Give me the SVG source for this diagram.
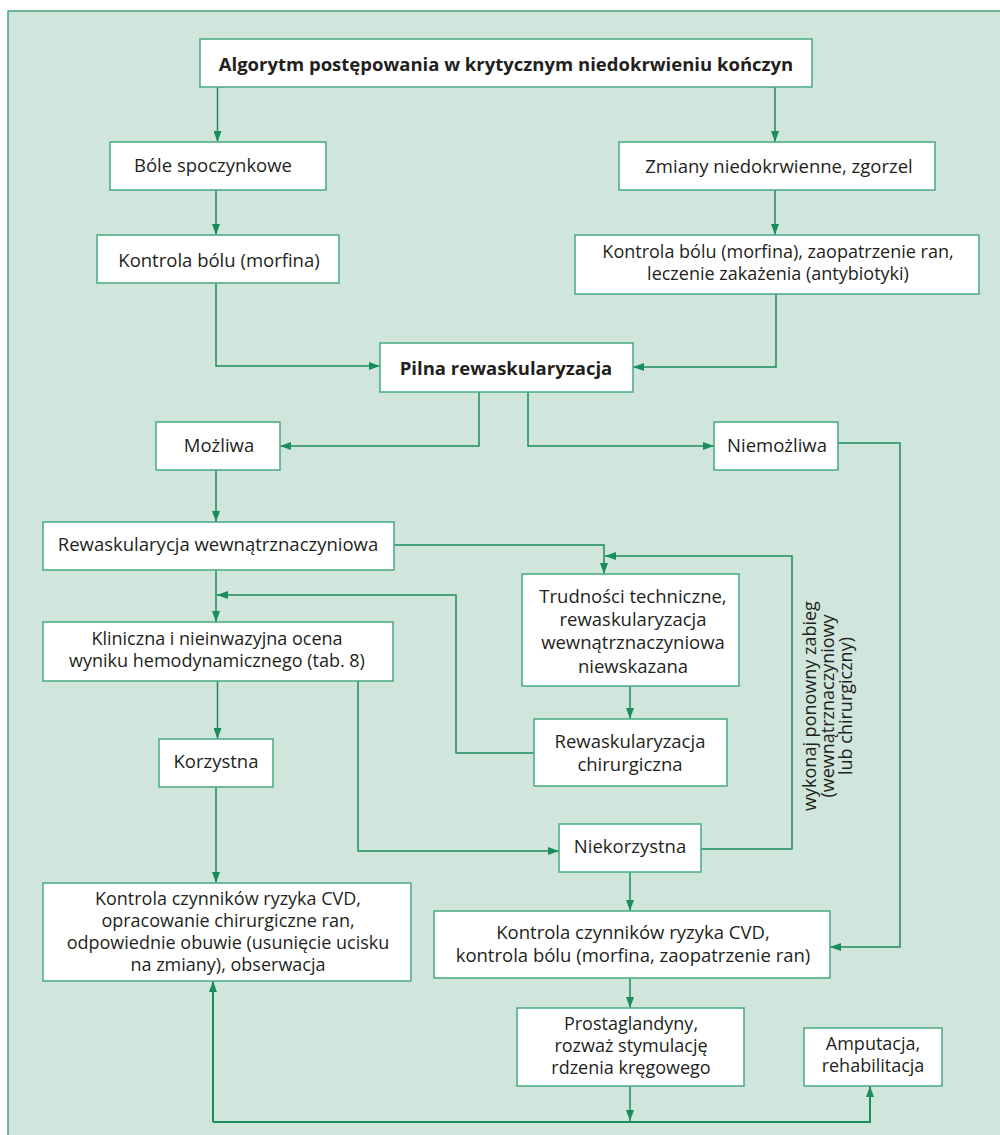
<svg xmlns="http://www.w3.org/2000/svg" width="1000" height="1135" viewBox="0 0 1000 1135">
<defs>
<marker id="ah" viewBox="0 0 11 8" refX="11" refY="4" markerWidth="11" markerHeight="8" orient="auto" markerUnits="userSpaceOnUse">
<path d="M0,0 L11,4 L0,8 z" fill="#1a8c5e"/>
</marker>
<style>
.box{fill:#ffffff;stroke:#4fae86;stroke-width:1.6}
.t{font-family:"Open Sans","Noto Sans","DejaVu Sans",sans-serif;font-size:18.5px;fill:#231f20;text-anchor:middle}
.s{font-size:18px}
.b{font-weight:bold}
.c{fill:none;stroke:#1a8c5e;stroke-width:1.5;marker-end:url(#ah)}
</style>
</defs>
<rect x="8" y="11" width="1000" height="1135" fill="#d0e5dc" stroke="#3fa57a" stroke-width="1.5"/>

<g id="connectors">
<path class="c" d="M217.5,87 V142"/>
<path class="c" d="M775,87 V142"/>
<path class="c" d="M216,190 V235"/>
<path class="c" d="M775,190 V235"/>
<path class="c" d="M216,283 V366 H380"/>
<path class="c" d="M776,294 V367 H633"/>
<path class="c" d="M479,392 V446 H280"/>
<path class="c" d="M528,392 V446 H714"/>
<path class="c" d="M838,443 H900 V947 H830"/>
<path class="c" d="M216,470 V522"/>
<path class="c" d="M394,545 H604 V574"/>
<path class="c" d="M216,570 V622"/>
<path class="c" d="M534,753 H456 V595 H217"/>
<path class="c" d="M701,849 H792 V556 H605"/>
<path class="c" d="M630,686 V719"/>
<path class="c" d="M217.5,681 V739"/>
<path class="c" d="M358,681 V851 H559"/>
<path class="c" d="M216,787 V883"/>
<path class="c" d="M630,872 V911"/>
<path class="c" d="M630,978 V1008"/>
<path class="c" d="M630,1086 V1121"/>
<path class="c" style="stroke-width:2" d="M213,1122 V981"/>
<path class="c" style="stroke-width:2" d="M213,1122 H870 V1086"/>
</g>

<g id="n-title"><rect class="box" x="200" y="39" width="612" height="48"/>
<text class="t b" x="506" y="71">Algorytm postępowania w krytycznym niedokrwieniu kończyn</text></g>

<g id="n-bole"><rect class="box" x="110" y="142" width="216" height="48"/>
<text class="t" x="213" y="172">Bóle spoczynkowe</text></g>

<g id="n-kontrola1"><rect class="box" x="97" y="235" width="242" height="48"/>
<text class="t" x="219" y="267">Kontrola bólu (morfina)</text></g>

<g id="n-zmiany"><rect class="box" x="619" y="142" width="316" height="48"/>
<text class="t" x="779" y="173">Zmiany niedokrwienne, zgorzel</text></g>

<g id="n-kontrola2"><rect class="box" x="575" y="235" width="404" height="59"/>
<text class="t s" x="778" y="258">Kontrola bólu (morfina), zaopatrzenie ran,</text>
<text class="t s" x="778" y="280">leczenie zakażenia (antybiotyki)</text></g>

<g id="n-pilna"><rect class="box" x="380" y="343" width="253" height="49"/>
<text class="t b" x="506" y="375">Pilna rewaskularyzacja</text></g>

<g id="n-mozliwa"><rect class="box" x="156" y="422" width="124" height="48"/>
<text class="t" x="219" y="452">Możliwa</text></g>

<g id="n-niemozliwa"><rect class="box" x="714" y="422" width="124" height="48"/>
<text class="t" x="777" y="452">Niemożliwa</text></g>

<g id="n-rewask"><rect class="box" x="43" y="522" width="351" height="48"/>
<text class="t" x="218" y="551">Rewaskularycja wewnątrznaczyniowa</text></g>

<g id="n-trudnosci"><rect class="box" x="522" y="574" width="217" height="112"/>
<text class="t" x="633" y="603">Trudności techniczne,</text>
<text class="t" x="633" y="626">rewaskularyzacja</text>
<text class="t" x="633" y="649">wewnątrznaczyniowa</text>
<text class="t" x="633" y="673">niewskazana</text></g>

<g id="n-chir"><rect class="box" x="534" y="719" width="193" height="67"/>
<text class="t" x="630" y="748">Rewaskularyzacja</text>
<text class="t" x="630" y="771">chirurgiczna</text></g>

<g id="n-kliniczna"><rect class="box" x="43" y="622" width="350" height="59"/>
<text class="t s" x="217" y="645">Kliniczna i nieinwazyjna ocena</text>
<text class="t s" x="217" y="667">wyniku hemodynamicznego (tab. 8)</text></g>

<g id="n-korzystna"><rect class="box" x="159" y="739" width="114" height="48"/>
<text class="t" x="216" y="768">Korzystna</text></g>

<g id="n-niekorzystna"><rect class="box" x="559" y="824" width="142" height="48"/>
<text class="t" x="630" y="853">Niekorzystna</text></g>

<g id="n-kontrola3"><rect class="box" x="43" y="883" width="368" height="98"/>
<text class="t s" x="228" y="905">Kontrola czynników ryzyka CVD,</text>
<text class="t s" x="228" y="927">opracowanie chirurgiczne ran,</text>
<text class="t s" x="228" y="949">odpowiednie obuwie (usunięcie ucisku</text>
<text class="t s" x="228" y="971">na zmiany), obserwacja</text></g>

<g id="n-kontrola4"><rect class="box" x="434" y="911" width="396" height="67"/>
<text class="t" x="633" y="939">Kontrola czynników ryzyka CVD,</text>
<text class="t" x="633" y="962">kontrola bólu (morfina, zaopatrzenie ran)</text></g>

<g id="n-prosta"><rect class="box" x="517" y="1008" width="227" height="78"/>
<text class="t s" x="631" y="1030">Prostaglandyny,</text>
<text class="t s" x="631" y="1052">rozważ stymulację</text>
<text class="t s" x="631" y="1074">rdzenia kręgowego</text></g>

<g id="n-amputacja"><rect class="box" x="804" y="1028" width="138" height="58"/>
<text class="t s" x="873" y="1050">Amputacja,</text>
<text class="t s" x="873" y="1072">rehabilitacja</text></g>

<g id="label-ponowny" transform="translate(0,706) rotate(-90)">
<text class="t s" x="0" y="816">wykonaj ponowny zabieg</text>
<text class="t s" x="0" y="834">(wewnątrznaczyniowy</text>
<text class="t s" x="0" y="852">lub chirurgiczny)</text>
</g>
</svg>
